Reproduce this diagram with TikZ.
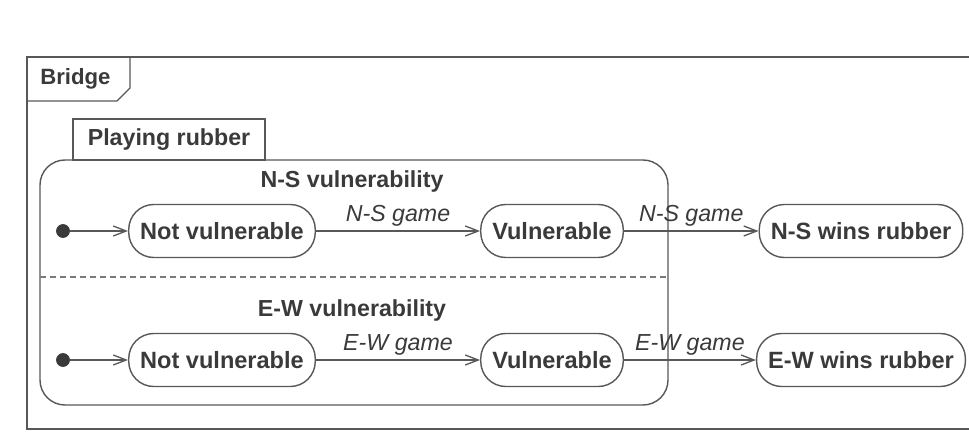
\documentclass[tikz,border=0pt]{standalone}
\usepackage{fontspec}
\setmainfont{Liberation Sans}
\usepackage{tikz}
\usetikzlibrary{arrows.meta, positioning}
\definecolor{scanInk}{RGB}{58, 58, 58}
\definecolor{scanLine}{RGB}{88, 88, 88}
\tikzset{
  frameLine/.style={
    draw=scanLine,
    line width=0.8pt
  },
  regionSep/.style={
    draw=scanLine!80,
    line width=0.7pt,
    dash pattern=on 0.12cm off 0.08cm
  },
  tabText/.style={
    inner sep=0pt,
    text=scanInk,
    font=\fontsize{12.6}{15}\selectfont\bfseries
  },
  regionText/.style={
    inner sep=0pt,
    text=scanInk,
    font=\fontsize{13.2}{16}\selectfont\bfseries
  },
  stateBox/.style={
    draw=scanLine,
    line width=0.8pt,
    rounded corners=0.5cm,
    minimum height=1.06cm,
    inner xsep=0.23cm,
    fill=white,
    text=scanInk,
    font=\fontsize{13.4}{16}\selectfont\bfseries
  },
  initDot/.style={
    circle,
    fill=scanInk,
    draw=scanInk,
    minimum size=0.26cm,
    inner sep=0pt
  },
  transArrow/.style={
    -{Straight Barb[length=0.26cm, width=0.2cm]},
    draw=scanLine,
    line width=0.75pt
  },
  gameLabel/.style={
    above,
    inner sep=2.5pt,
    text=scanInk,
    font=\fontsize{13.2}{16}\selectfont\itshape
  }
}

\begin{document}
\begin{tikzpicture}[x=0.02cm, y=-0.02cm]
  \useasboundingbox (0,0) rectangle (969,432);
  % Outer frame: Bridge
  \draw[frameLine] (969,429) -- (27,429) -- (27,57) -- (969,57);
  \draw[frameLine] (27,101) -- (117,101) -- (130,88) -- (130,57);
  \node[tabText, anchor=west] (bridgeTitle) at (40,79) {Bridge};
  % Composite state: Playing rubber
  \draw[frameLine, rounded corners=0.5cm] (40,160) rectangle (668,405);
  \draw[frameLine] (73,160) rectangle (265,119);
  \node[tabText, font=\fontsize{13.2}{16}\selectfont\bfseries] (rubberTitle) at (169,140) {Playing rubber};
  \draw[regionSep] (40,277) -- (668,277);
  % Region 1: N-S vulnerability
  \node[regionText] (nsTitle) at (352,182) {N-S vulnerability};
  \node[initDot] (nsStart) at (63,231) {};
  \node[stateBox] (nsNot) at (222,231) {Not vulnerable};
  \node[stateBox] (nsVul) at (552,231) {Vulnerable};
  \node[stateBox] (nsWin) at (861,231) {N-S wins rubber};
  \draw[transArrow] (nsStart) -- (nsNot);
  \draw[transArrow] (nsNot) -- node[gameLabel] {N-S game} (nsVul);
  \draw[transArrow] (nsVul) -- node[gameLabel] {N-S game} (nsWin);
  % Region 2: E-W vulnerability
  \node[regionText] (ewTitle) at (352,311) {E-W vulnerability};
  \node[initDot] (ewStart) at (63,360) {};
  \node[stateBox] (ewNot) at (222,360) {Not vulnerable};
  \node[stateBox] (ewVul) at (552,360) {Vulnerable};
  \node[stateBox] (ewWin) at (861,360) {E-W wins rubber};
  \draw[transArrow] (ewStart) -- (ewNot);
  \draw[transArrow] (ewNot) -- node[gameLabel] {E-W game} (ewVul);
  \draw[transArrow] (ewVul) -- node[gameLabel] {E-W game} (ewWin);
\end{tikzpicture}
\end{document}
